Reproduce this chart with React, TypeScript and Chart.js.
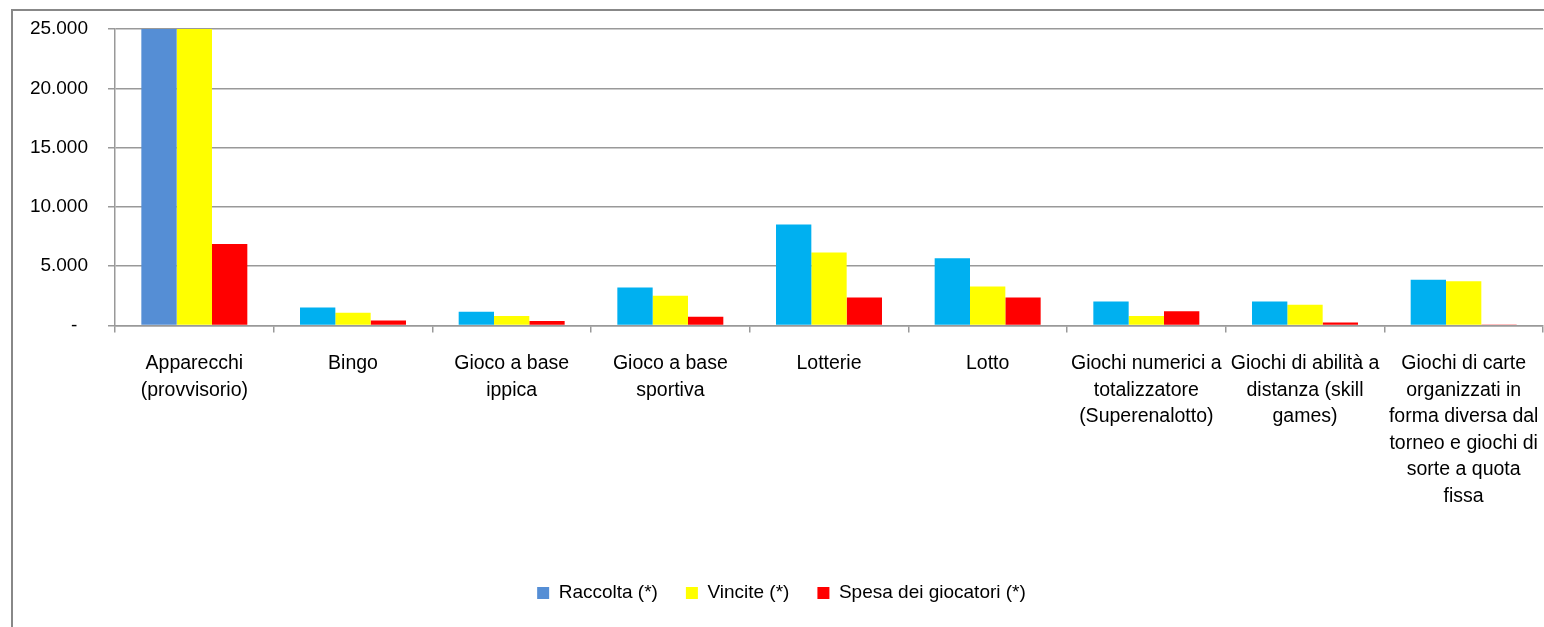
import { useEffect, useRef } from 'react';
import { Chart, registerables } from 'chart.js';

Chart.register(...registerables);

const categories: (string | string[])[] = [
  ['Apparecchi', '(provvisorio)'],
  'Bingo',
  ['Gioco a base', 'ippica'],
  ['Gioco a base', 'sportiva'],
  'Lotterie',
  'Lotto',
  ['Giochi numerici a', 'totalizzatore', '(Superenalotto)'],
  ['Giochi di abilità a', 'distanza (skill', 'games)'],
  ['Giochi di carte', 'organizzati in', 'forma diversa dal', 'torneo e giochi di', 'sorte a quota', 'fissa'],
];

const seriesNames = ['Raccolta (*)', 'Vincite (*)', 'Spesa dei giocatori (*)'];
const raccolta = [47000, 1515, 1150, 3200, 8500, 5670, 2020, 2020, 3850];
const vincite = [40130, 1070, 800, 2500, 6150, 3280, 790, 1740, 3730];
const spesa = [6870, 420, 380, 730, 2360, 2360, 1200, 250, 70];

const yMin = 0;
const yMax = 25000;
const yStep = 5000;

const FONT = "'Liberation Sans', Arial, sans-serif";
const GRID = '#999999';

function formatTick(v: number): string {
  if (v === 0) return '-  ';
  return String(Math.round(v)).replace(/\B(?=(\d{3})+(?!\d))/g, '.');
}

export default function App() {
  const ref = useRef<HTMLCanvasElement>(null);

  useEffect(() => {
    const canvas = ref.current;
    if (!canvas) return;
    const chart = new Chart(canvas, {
      type: 'bar',
      data: {
        labels: categories,
        datasets: [
          {
            label: seriesNames[0],
            data: raccolta,
            backgroundColor: (c: any) => (c.type === 'data' && c.dataIndex === 0 ? '#558ED5' : '#00B0F0'),
          },
          { label: seriesNames[1], data: vincite, backgroundColor: '#FFFF00' },
          { label: seriesNames[2], data: spesa, backgroundColor: '#FF0000' },
        ],
      },
      options: {
        responsive: false,
        animation: false,
        devicePixelRatio: 1,
        layout: { padding: { left: 20, top: 29, right: 1, bottom: 14.5 } },
        datasets: { bar: { categoryPercentage: 0.668, barPercentage: 1, borderWidth: 0 } },
        plugins: {
          tooltip: { enabled: false },
          legend: {
            position: 'bottom',
            labels: {
              boxWidth: 12,
              boxHeight: 12,
              padding: 28,
              color: '#000',
              font: { family: FONT, size: 19 },
            },
          },
        },
        scales: {
          x: {
            grid: {
              offset: true,
              drawOnChartArea: false,
              drawTicks: true,
              tickLength: 7,
              color: GRID,
              lineWidth: 1.5,
            },
            border: { color: GRID, width: 1.5 },
            ticks: {
              color: '#000',
              font: { family: FONT, size: 19.5, lineHeight: 1.36 },
              padding: 18,
              maxRotation: 0,
              minRotation: 0,
              autoSkip: false,
            },
            afterFit: (s: any) => {
              s.height = 230.1;
              s.paddingLeft = 0;
              s.paddingRight = 0;
            },
          },
          y: {
            min: yMin,
            max: yMax,
            ticks: {
              stepSize: yStep,
              color: '#000',
              padding: 20,
              font: { family: FONT, size: 19 },
              callback: (v: any) => formatTick(Number(v)),
            },
            grid: { color: GRID, lineWidth: 1.5, tickLength: 7, drawTicks: true },
            border: { color: GRID, width: 1.5 },
            afterFit: (s: any) => {
              s.width = 95;
              s.paddingTop = 0;
              s.paddingBottom = 0;
            },
          },
        },
      },
    });
    return () => chart.destroy();
  }, []);

  return (
    <>
      <canvas
        ref={ref}
        width={1544}
        height={627}
        style={{ position: 'fixed', left: 0, top: 0, width: 1544, height: 627, background: '#fff' }}
      />
      <div
        style={{
          position: 'fixed',
          left: 11,
          top: 9,
          width: 1560,
          height: 660,
          border: '2px solid #888888',
          boxSizing: 'border-box',
          pointerEvents: 'none',
        }}
      />
    </>
  );
}
